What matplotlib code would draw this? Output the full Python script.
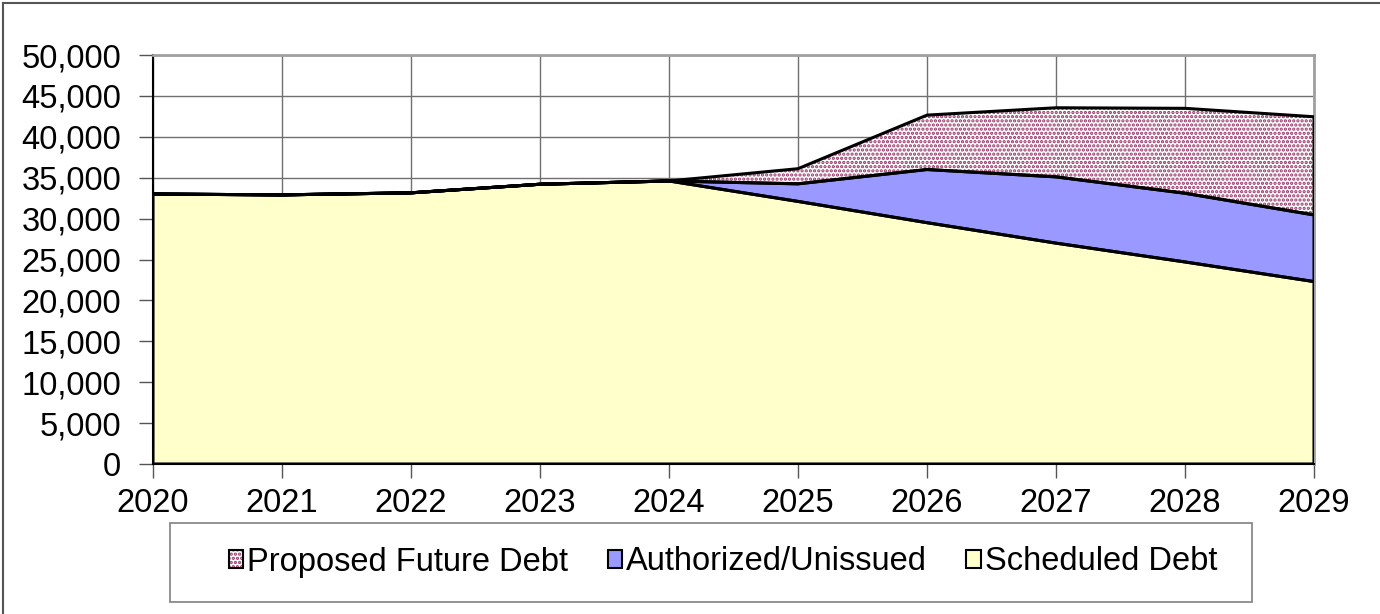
import matplotlib
matplotlib.use('Agg')
import numpy as np
import matplotlib.pyplot as plt
from matplotlib.patches import Patch, Rectangle
from matplotlib.lines import Line2D
from matplotlib.ticker import FuncFormatter

plt.rcParams['font.family'] = ['Liberation Sans', 'DejaVu Sans']
plt.rcParams['hatch.linewidth'] = 1.6

# debt by year (stacked)
years = [2020, 2021, 2022, 2023, 2024, 2025, 2026, 2027, 2028, 2029]
scheduled = [33000, 32900, 33150, 34200, 34600, 32100, 29500, 27000, 24700, 22300]
authorized = [0, 0, 0, 0, 0, 2150, 6500, 8100, 8400, 8150]
proposed = [0, 0, 0, 0, 0, 1850, 6650, 8450, 10380, 12000]
yticks = list(range(0, 50001, 5000))

col_sched = '#FFFFCC'
col_auth = '#9999FF'
col_prop = '#993366'
fs = 23.5

x = np.array(years)
s = np.array(scheduled, dtype=float)
a = s + np.array(authorized, dtype=float)
p = a + np.array(proposed, dtype=float)

W, H = 1380, 614
fig = plt.figure(figsize=(13.8, 6.14), dpi=100)
ax = fig.add_axes([153/W, 1-464/H, (1314-153)/W, (464-55)/H])

# fills
ax.fill_between(x, 0, s, facecolor=col_sched, edgecolor='none', zorder=2)
ax.fill_between(x, s, a, facecolor=col_auth, edgecolor='none', zorder=2)
ax.fill_between(x, a, p, facecolor='white', edgecolor=col_prop, hatch='....',
                linewidth=0, zorder=2)
# black outlines
for lo, hi in [(0, s), (s, a), (a, p)]:
    ax.fill_between(x, lo, hi, facecolor='none', edgecolor='k', linewidth=2.2, zorder=3)

ax.set_xlim(years[0], years[-1])
ax.set_ylim(0, 50000)
ax.set_xticks(years)
ax.set_yticks(yticks)
ax.yaxis.set_major_formatter(FuncFormatter(lambda v, pos: '{:,.0f}'.format(v)))
ax.tick_params(axis='both', labelsize=fs, direction='out', length=10,
               width=1, color='#555555')
ax.tick_params(axis='y', pad=13)
ax.tick_params(axis='x', pad=7)

ax.grid(True, color='#707070', linewidth=1)
ax.set_axisbelow(True)
for side in ['top', 'right']:
    ax.spines[side].set_color('#A0A0A0')
    ax.spines[side].set_linewidth(2)
for side in ['left', 'bottom']:
    ax.spines[side].set_color('black')
    ax.spines[side].set_linewidth(1.5)

# legend frame drawn by hand
fig.add_artist(Rectangle((170/W, 1-602/H), (1252-170)/W, (602-523)/H,
                         facecolor='white', edgecolor='#808080', lw=1.2,
                         transform=fig.transFigure))
h_prop = (Patch(facecolor='white', edgecolor=col_prop, hatch='....', linewidth=0),
          Patch(facecolor='none', edgecolor='k', linewidth=1.5))
h_auth = Patch(facecolor=col_auth, edgecolor='k', linewidth=1.5)
h_sched = Patch(facecolor=col_sched, edgecolor='k', linewidth=1.5)
leg = fig.legend([h_prop, h_auth, h_sched],
                 ['Proposed Future Debt', 'Authorized/Unissued', 'Scheduled Debt'],
                 loc='center', bbox_to_anchor=(723/W, 1-562/H), ncol=3,
                 fontsize=fs, handlelength=0.45, handleheight=0.45,
                 handletextpad=0.12, columnspacing=1.2, frameon=False)

# chart border (clipped on right/bottom)
fig.add_artist(Line2D([3/W, 1], [1-3/H, 1-3/H], color='#555555', lw=1.5))
fig.add_artist(Line2D([3/W, 3/W], [0, 1-3/H], color='#555555', lw=1.5))

plt.savefig('out.png', dpi=100)
